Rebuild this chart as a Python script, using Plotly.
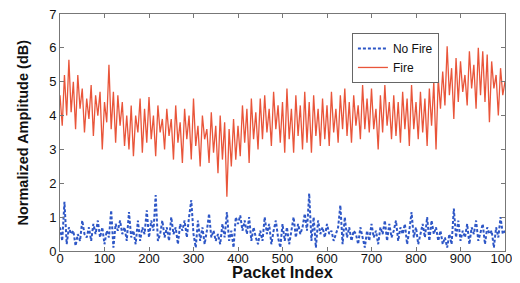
import plotly.graph_objects as go

packet_index = list(range(0, 1001, 5))

fire = [
    4.6, 3.7, 5.2, 4.0, 5.65, 4.1, 5.0, 3.6, 5.2, 4.2,
    4.8, 3.5, 4.5, 3.9, 4.9, 3.4, 4.6, 4.0, 4.7, 3.0,
    4.4, 3.8, 5.5, 3.6, 4.7, 3.2, 4.6, 3.7, 4.4, 3.1,
    4.0, 3.0, 4.3, 2.8, 4.0, 3.5, 4.5, 2.9, 4.2, 3.2,
    4.55, 3.3, 4.0, 2.8, 4.3, 3.5, 3.9, 3.0, 4.2, 3.4,
    3.9, 2.7, 4.3, 3.2, 3.8, 2.6, 4.2, 3.3, 4.0, 2.7,
    4.5, 3.1, 3.7, 2.5, 4.0, 3.3, 3.6, 2.6, 4.1, 2.9,
    3.7, 2.3, 4.0, 2.7, 3.8, 1.6, 3.6, 2.5, 3.9, 2.7,
    3.7, 2.8, 4.3, 3.2, 4.2, 2.6, 4.5, 3.3, 4.1, 3.0,
    4.5, 3.3, 4.6, 3.5, 4.2, 3.1, 4.7, 3.6, 4.3, 3.2,
    4.4, 2.9, 4.8, 3.3, 4.2, 2.9, 4.6, 3.4, 4.3, 3.0,
    4.7, 3.2, 4.4, 2.9, 4.6, 3.4, 4.2, 3.1, 4.5, 3.3,
    4.3, 3.1, 4.7, 3.5, 4.2, 3.2, 4.6, 3.6, 4.8, 3.4,
    4.4, 3.2, 4.6, 3.7, 4.3, 3.3, 4.9, 3.6, 4.5, 3.5,
    4.8, 3.6, 4.2, 3.0, 4.6, 3.5, 4.9, 3.7, 4.4, 3.3,
    4.6, 3.4, 4.4, 3.2, 4.7, 3.6, 4.5, 3.1, 4.9, 3.6,
    4.4, 3.3, 4.7, 3.5, 4.5, 3.1, 4.8, 3.7, 5.0, 3.0,
    5.1, 4.2, 5.3, 4.3, 6.05, 4.6, 5.4, 3.9, 5.7, 4.4,
    5.6, 4.7, 5.2, 4.3, 5.9, 4.8, 5.5, 4.2, 6.0, 4.6,
    5.9, 4.4, 5.8, 3.8, 5.6, 4.8, 5.2, 4.0, 5.4, 4.6,
    5.0,
]

no_fire = [
    0.7, 0.3, 1.45, 0.2, 0.7, 0.5, 0.6, 0.15, 0.5, 0.3,
    0.9, 0.5, 0.4, 0.7, 0.3, 0.8, 0.5, 0.9, 0.4, 0.7,
    0.2, 0.6, 0.4, 1.2, 0.1, 0.8, 0.6, 0.9, 0.5, 0.7,
    0.3, 1.15, 0.4, 0.6, 0.2, 0.9, 0.3, 0.7, 0.5, 1.2,
    0.4, 0.9, 0.6, 1.65, 0.3, 0.5, 0.9, 0.4, 0.7, 0.3,
    1.0, 0.5, 0.7, 0.2, 0.8, 0.6, 0.9, 0.4, 1.0, 1.5,
    0.5, 0.1, 0.9, 0.3, 0.7, 0.2, 0.6, 1.1, 0.4, 0.6,
    0.3, 0.5, 0.2, 0.8, 0.4, 1.15, 0.3, 0.6, 0.1, 1.0,
    0.8, 1.05, 0.6, 0.9, 0.5, 1.0, 0.3, 0.7, 0.4, 0.2,
    0.6, 0.3, 1.0, 0.5, 0.8, 0.2, 0.6, 0.9, 0.4, 0.1,
    0.8, 0.3, 0.7, 0.2, 0.6, 1.0, 0.4, 0.8, 0.5, 0.7,
    1.1, 0.6, 1.7, 0.3, 1.0, 0.1, 0.9, 0.5, 0.7, 0.4,
    0.8, 0.5, 0.6, 0.3, 0.5, 0.7, 1.35, 0.2, 1.0, 0.4,
    0.7, 0.3, 0.6, 0.5, 0.2, 0.7, 0.4, 0.1, 0.6, 0.3,
    0.8, 0.4, 0.6, 0.2, 0.7, 0.5, 0.9, 0.3, 0.8, 0.4,
    0.6, 0.9, 0.3, 0.7, 0.5, 0.8, 0.2, 0.6, 1.15, 0.4,
    0.7, 0.2, 0.5, 0.8, 0.4, 1.0, 0.3, 0.9, 0.5, 0.7,
    0.3, 0.6, 0.2, 0.4, 0.1, 0.5, 0.2, 1.25, 0.4, 0.9,
    0.3, 0.6, 0.4, 0.8, 0.2, 0.7, 0.5, 0.9, 0.3, 0.6,
    0.8, 0.2, 0.7, 0.5, 0.6, 0.1, 0.7, 0.4, 1.0, 0.5,
    0.6,
]

x_ticks = list(range(0, 1001, 100))
y_ticks = list(range(0, 8))
x_title = "Packet Index"
y_title = "Normalized Amplitude (dB)"

FONT = "Liberation Sans, Arial"

fig = go.Figure()
fig.add_trace(go.Scatter(
    x=packet_index, y=no_fire, mode="lines", name="No Fire",
    line=dict(color="#2d56c6", width=2, dash="3px,2px"),
))
fig.add_trace(go.Scatter(
    x=packet_index, y=fire, mode="lines", name="Fire",
    line=dict(color="#e9553a", width=1.3),
))

axis_common = dict(
    showgrid=False, zeroline=False, showline=True, linecolor="#777777",
    linewidth=1, mirror="ticks", ticks="inside", ticklen=4,
    tickcolor="#777777", automargin=False, ticklabeloverflow="allow",
    tickfont=dict(family=FONT, size=13, color="#111111"),
)

fig.update_layout(
    width=520, height=283,
    margin=dict(l=52, r=23, t=6, b=40),
    paper_bgcolor="white", plot_bgcolor="white",
    showlegend=True,
    legend=dict(
        x=0.656, y=0.92, xanchor="left", yanchor="top",
        bgcolor="white", bordercolor="#666666", borderwidth=1,
        font=dict(family=FONT, size=12, color="#111111"),
        tracegroupgap=0, itemwidth=30,
    ),
    xaxis=dict(range=[0, 1000], tickvals=x_ticks, ticklabelstandoff=-5, **axis_common),
    yaxis=dict(range=[0, 7], tickvals=y_ticks, **axis_common),
    annotations=[
        dict(text="<b>" + x_title + "</b>", xref="paper", yref="paper",
             x=0.5, y=0, xanchor="center", yanchor="middle", yshift=-21,
             showarrow=False, font=dict(family=FONT, size=16.5, color="#111111")),
        dict(text="<b>" + y_title + "</b>", xref="paper", yref="paper",
             x=0, y=0.5, xanchor="center", yanchor="middle", xshift=-38,
             textangle=-90, showarrow=False,
             font=dict(family=FONT, size=14.5, color="#111111")),
    ],
)

fig.write_html("out.html")
